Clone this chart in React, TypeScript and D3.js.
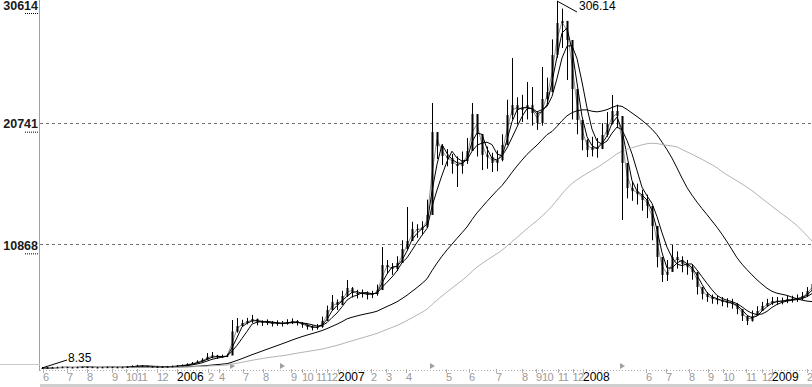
import React, { useEffect, useRef } from 'react';
import * as d3 from 'd3';

// weekly samples (price, adjusted)
const closes = [
  8.4, 8.6, 8.7, 8.9, 9.0, 8.8, 8.7, 8.9, 9.1, 9.0,
  8.8, 8.7, 8.9, 9.0, 8.9, 8.8, 8.9, 9.2, 9.8, 10.2,
  10.0, 9.6, 9.3, 9.2, 9.3, 9.5, 9.8, 10.1, 10.6, 11.4,
  12.3, 13.6, 15.0, 17.5, 18.5, 17.0, 17.8, 18.5, 38.0, 42.4,
  44.9, 46.5, 48.1, 45.7, 44.9, 45.7, 44.1, 44.9, 44.1, 45.7,
  46.5, 44.9, 43.3, 41.6, 40.8, 41.6, 46.5, 55.4, 62.0, 59.5,
  66.8, 73.3, 69.2, 68.4, 69.2, 67.6, 68.4, 71.6, 91.9, 90.3,
  88.7, 93.5, 104.9, 111.4, 121.1, 120.3, 122.8, 132.5, 199.8, 188.5,
  180.4, 178.7, 173.9, 172.2, 176.3, 184.4, 214.4, 198.2, 181.2, 179.6,
  174.7, 177.1, 189.3, 213.6, 221.7, 217.7, 219.3, 221.7, 215.2, 207.1,
  226.6, 232.3, 262.3, 288.3, 290.0, 274.5, 234.7, 209.6, 193.3, 185.2,
  187.7, 186.1, 197.4, 206.3, 216.9, 212.8, 174.7, 154.4, 151.9, 149.5,
  144.7, 139.8, 123.6, 98.4, 83.8, 86.3, 98.4, 96.0, 92.8, 90.3,
  86.3, 74.1, 68.4, 65.9, 64.3, 63.5, 61.9, 61.1, 60.3, 56.2,
  50.5, 46.5, 50.5, 54.6, 58.7, 61.1, 62.7, 62.7, 62.7, 64.3,
  64.3, 65.1, 66.8, 70.8, 76.5,
];

const highs = [
  9.2, 9.1, 9.2, 9.4, 9.5, 9.3, 9.2, 9.4, 9.6, 9.5,
  9.3, 9.2, 9.4, 9.5, 9.4, 9.3, 9.4, 9.8, 10.5, 10.9,
  10.6, 10.1, 9.8, 9.7, 9.8, 10.0, 10.3, 10.7, 11.3, 12.2,
  13.2, 14.6, 16.3, 20.5, 21.3, 19.0, 19.2, 19.8, 47.3, 48.9,
  47.5, 49.0, 51.4, 48.5, 47.0, 47.8, 46.5, 47.0, 46.5, 47.9,
  48.6, 47.2, 45.5, 43.8, 43.0, 44.0, 50.0, 59.0, 67.6, 64.0,
  71.0, 79.8, 74.0, 71.8, 72.0, 70.5, 71.0, 76.0, 106.5, 96.0,
  93.5, 99.0, 112.0, 139.0, 127.0, 125.0, 127.5, 145.0, 223.4, 199.0,
  190.0, 186.0, 182.0, 180.0, 184.0, 195.0, 223.4, 210.0, 192.0, 188.0,
  183.0, 185.0, 198.0, 226.0, 259.9, 228.0, 230.0, 240.4, 236.3, 216.0,
  252.6, 244.0, 275.0, 306.14, 300.0, 285.0, 252.0, 222.0, 204.0, 194.0,
  196.0, 195.0, 207.0, 216.0, 229.9, 222.0, 200.0, 166.0, 160.0, 158.0,
  153.0, 149.0, 138.0, 112.0, 92.0, 96.0, 108.2, 103.0, 99.0, 96.0,
  92.0, 82.0, 73.0, 70.0, 68.0, 67.0, 66.0, 65.0, 64.5, 61.0,
  55.0, 51.0, 55.0, 58.5, 62.0, 64.5, 66.0, 66.0, 65.5, 67.0,
  67.0, 68.0, 70.0, 74.0, 80.0,
];

const lows = [
  8.35, 8.35, 8.4, 8.5, 8.6, 8.4, 8.4, 8.5, 8.7, 8.6,
  8.4, 8.4, 8.5, 8.6, 8.5, 8.4, 8.5, 8.8, 9.3, 9.6,
  9.4, 9.1, 8.9, 8.8, 8.9, 9.1, 9.3, 9.6, 10.0, 10.7,
  11.5, 12.6, 14.0, 15.5, 16.2, 15.8, 16.6, 17.2, 23.0, 37.0,
  42.0, 43.8, 45.0, 43.0, 42.5, 43.2, 42.0, 42.6, 42.0, 43.5,
  44.0, 42.8, 41.0, 39.5, 38.8, 39.5, 41.0, 47.0, 55.0, 55.5,
  60.0, 66.0, 65.5, 64.8, 65.5, 64.0, 65.0, 67.0, 74.0, 85.0,
  84.0, 87.0, 94.0, 104.0, 112.0, 114.0, 116.0, 122.0, 144.7, 178.0,
  173.0, 172.0, 166.0, 155.2, 166.0, 174.0, 186.0, 180.0, 169.0, 170.0,
  167.4, 168.0, 176.0, 190.0, 210.0, 206.0, 208.0, 210.0, 205.0, 201.5,
  205.0, 222.0, 232.0, 260.0, 268.0, 242.0, 210.0, 198.0, 185.0, 179.5,
  180.0, 179.0, 186.0, 196.0, 206.0, 203.0, 128.4, 146.0, 144.0, 141.0,
  136.0, 130.0, 112.0, 90.0, 78.1, 79.0, 88.0, 89.0, 86.0, 84.0,
  80.0, 68.0, 64.0, 62.0, 60.5, 60.0, 58.5, 57.5, 56.5, 52.0,
  46.5, 43.2, 46.0, 51.0, 55.5, 58.0, 59.5, 59.5, 60.0, 61.0,
  61.5, 62.0, 63.5, 66.0, 70.0,
];

// month labels and the bar index where each one sits
const monthLabels = [
  '6', '7', '8', '9', '10', '11', '12', '2006', '2', '4', '7', '8', '9', '10', '11', '12',
  '2007', '2', '3', '4', '5', '6', '7', '8', '9', '10', '11', '12',
  '2008', '6', '7', '8', '9', '10', '11', '12', '2009', '2',
];
const monthIndex = [
  0.2, 5, 9, 14, 16.8, 19, 23, 27, 33.2, 35.4, 40.2, 44.2, 49.8, 52, 54.8, 56.9,
  59.2, 65.8, 68.8, 72.8, 80.8, 85.4, 90.8, 96, 98.8, 100, 103.2, 106.1,
  108.2, 120.8, 124.8, 129.4, 133.2, 136.2, 140.8, 144, 146, 153,
];

const yTicks = [306.14, 207.41, 108.68];
const eventIndex = [38, 48, 78, 116];
const maWindows = [2, 3, 5, 24, 50];

const FONT = '"Liberation Sans", Arial, sans-serif';

const movingAvg = (arr: number[], n: number) =>
  arr.map((_, i) => {
    const s = arr.slice(Math.max(0, i - n + 1), i + 1);
    return d3.mean(s) as number;
  });

const App: React.FC = () => {
  const ref = useRef<SVGSVGElement>(null);

  useEffect(() => {
    const svg = d3.select(ref.current);
    svg.selectAll('*').remove();

    const x = d3.scaleLinear().domain([0, closes.length - 1]).range([42, 812]);
    const y = d3
      .scaleLinear()
      .domain([d3.min(lows) as number, d3.max(highs) as number])
      .range([368, 1]);

    svg.append('rect').attr('width', 812).attr('height', 387).attr('fill', '#fff');

    // frame bits
    svg.append('line').attr('x1', 39.5).attr('x2', 39.5).attr('y1', 0).attr('y2', 371)
      .attr('stroke', '#a0a0a0');
    svg.append('line').attr('x1', 0).attr('x2', 40).attr('y1', 364.5).attr('y2', 364.5)
      .attr('stroke', '#c8c8c8');
    svg.append('rect').attr('x', 40).attr('y', 384).attr('width', 772).attr('height', 3)
      .attr('fill', '#cfcfcf');

    // dashed grid
    yTicks.filter((v) => y(v) > 10).forEach((v) => {
      svg.append('line')
        .attr('x1', 40).attr('x2', 812)
        .attr('y1', Math.round(y(v)) + 0.5).attr('y2', Math.round(y(v)) + 0.5)
        .attr('stroke', '#707070').attr('stroke-dasharray', '3,3');
    });

    // y labels: last two digits underlined
    yTicks.forEach((v) => {
      const s = Math.round(v * 100).toString();
      const cy = Math.max(5, y(v) + 1);
      svg.append('text')
        .attr('x', 38).attr('y', cy + 4.5)
        .attr('text-anchor', 'end')
        .attr('font-family', FONT).attr('font-size', 12.5).attr('font-weight', 'bold')
        .attr('fill', '#1a1a1a')
        .text(s);
      svg.append('line')
        .attr('x1', 25).attr('x2', 38)
        .attr('y1', cy + 8.5).attr('y2', cy + 8.5)
        .attr('stroke', '#000').attr('stroke-dasharray', '1,1');
    });

    // x axis: dotted rule, ticks, labels
    svg.append('line').attr('x1', 40).attr('x2', 812).attr('y1', 370.5).attr('y2', 370.5)
      .attr('stroke', '#b0b0b0').attr('stroke-dasharray', '1,2');
    monthIndex.forEach((m, k) => {
      const px = Math.round(x(m)) + 0.5;
      svg.append('line').attr('x1', px).attr('x2', px).attr('y1', 369).attr('y2', 373)
        .attr('stroke', '#b0b0b0');
      const isYear = monthLabels[k].length === 4;
      svg.append('text')
        .attr('x', x(m)).attr('y', 381)
        .attr('font-family', FONT)
        .attr('font-size', isYear ? 12 : 11)
        .attr('letter-spacing', isYear ? 0 : -0.6)
        .attr('fill', isYear ? '#000' : '#9a9a9a')
        .text(monthLabels[k]);
    });

    // event markers
    eventIndex.forEach((i) => {
      const px = x(i);
      svg.append('path')
        .attr('d', `M${px - 2},363 L${px + 3},366 L${px - 2},369 Z`)
        .attr('fill', '#a0a0a0');
    });

    // moving averages
    const line = d3.line<number>().x((_, i) => x(i)).y((d) => y(d));
    const maColors = ['#8f8f8f', '#000', '#000', '#000', '#b4b4b4'];
    maWindows.forEach((n, k) => {
      svg.append('path')
        .datum(movingAvg(closes, n))
        .attr('d', line)
        .attr('fill', 'none')
        .attr('stroke', maColors[k])
        .attr('stroke-width', 1);
    });

    // candles
    closes.forEach((c, i) => {
      const o = i > 0 ? closes[i - 1] : c;
      const px = Math.round(x(i)) + 0.5;
      svg.append('line')
        .attr('x1', px).attr('x2', px)
        .attr('y1', y(highs[i])).attr('y2', y(lows[i]))
        .attr('stroke', '#000');
      const top = y(Math.max(o, c));
      const h = Math.max(1, Math.abs(y(o) - y(c)));
      svg.append('rect')
        .attr('x', px - 1).attr('y', top).attr('width', 2).attr('height', h)
        .attr('fill', '#000');
    });

    // max / min annotations
    const iMax = d3.maxIndex(highs);
    const hx = x(iMax), hy = y(highs[iMax]);
    svg.append('line').attr('x1', hx).attr('y1', hy).attr('x2', hx + 20).attr('y2', hy + 11)
      .attr('stroke', '#000');
    svg.append('text').attr('x', hx + 22).attr('y', hy + 9)
      .attr('font-family', FONT).attr('font-size', 12).attr('fill', '#000')
      .text(highs[iMax].toFixed(2));

    const iMin = d3.minIndex(lows);
    const lx = x(iMin), ly = y(lows[iMin]);
    svg.append('line').attr('x1', lx).attr('y1', ly).attr('x2', lx + 25).attr('y2', ly - 8)
      .attr('stroke', '#000');
    svg.append('text').attr('x', lx + 26).attr('y', ly - 6)
      .attr('font-family', FONT).attr('font-size', 12).attr('fill', '#000')
      .text(lows[iMin].toFixed(2));
  }, []);

  return (
    <svg
      ref={ref}
      width={812}
      height={387}
      style={{ position: 'absolute', left: 0, top: 0, display: 'block' }}
    />
  );
};

export default App;
